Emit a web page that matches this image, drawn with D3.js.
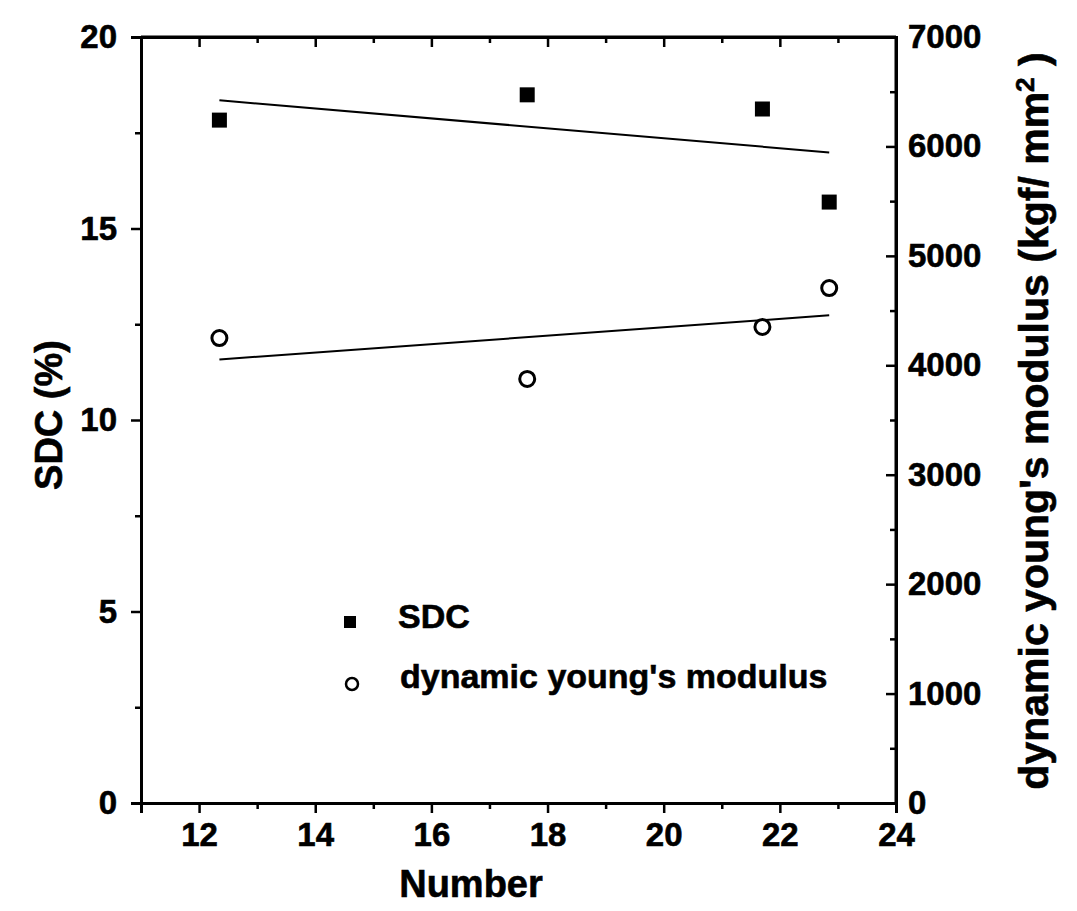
<!DOCTYPE html>
<html><head><meta charset="utf-8">
<script src="https://cdn.jsdelivr.net/npm/d3@7"></script>
<style>
body{margin:0;background:#fff;}
text{font-family:"Liberation Sans",Arial,sans-serif;font-weight:bold;fill:#000;stroke:#000;stroke-width:0.6px;}
</style></head>
<body>
<svg id="c" width="1077" height="911"></svg>
<script>
const numbers = [12.35, 17.65, 21.7, 22.85];
const sdcValues = [17.83, 18.49, 18.12, 15.69];
const modulusValues = [4249, 3875, 4350, 4706];
const xTicks = [12, 14, 16, 18, 20, 22, 24];
const yLeftTicks = [0, 5, 10, 15, 20];
const yRightTicks = [0, 1000, 2000, 3000, 4000, 5000, 6000, 7000];
const legendLabels = ["SDC", "dynamic young's modulus"];

const svg = d3.select("#c");
const L = 141, R = 896, T = 37, B = 803;
const x = d3.scaleLinear().domain([11, 24]).range([L, R]);
const yL = d3.scaleLinear().domain([0, 20]).range([B, T]);
const yR = d3.scaleLinear().domain([0, 7000]).range([B, T]);

function fit(xs, ys){
  const mx = d3.mean(xs), my = d3.mean(ys);
  let sxy = 0, sxx = 0;
  xs.forEach((v,i)=>{sxy += (v-mx)*(ys[i]-my); sxx += (v-mx)*(v-mx);});
  const b = sxy/sxx, a = my - b*mx;
  const x0 = d3.min(xs), x1 = d3.max(xs);
  return [[x0, a+b*x0],[x1, a+b*x1]];
}

const sw = 3;
const odd = d3.range(11,24,1).filter(v=>v%2===1);
const gB = svg.append("g").attr("transform",`translate(0,${B})`)
  .call(d3.axisBottom(x).tickValues(xTicks).tickSize(10).tickPadding(8).tickFormat(d3.format("d")));
svg.append("g").attr("transform",`translate(0,${B})`)
  .call(d3.axisBottom(x).tickValues(odd).tickSize(6).tickFormat(""));
svg.append("g").attr("transform",`translate(0,${T})`)
  .call(d3.axisBottom(x).tickValues(xTicks).tickSize(10).tickFormat(""));
svg.append("g").attr("transform",`translate(0,${T})`)
  .call(d3.axisBottom(x).tickValues(odd).tickSize(6).tickFormat(""));
svg.append("g").attr("transform",`translate(${L},0)`)
  .call(d3.axisLeft(yL).tickValues(yLeftTicks).tickSize(10).tickPadding(14).tickFormat(d3.format("d")));
svg.append("g").attr("transform",`translate(${L},0)`)
  .call(d3.axisLeft(yL).tickValues([2.5,7.5,12.5,17.5]).tickSize(6).tickFormat(""));
svg.append("g").attr("transform",`translate(${R},0)`)
  .call(d3.axisLeft(yR).tickValues(yRightTicks).tickSize(10).tickFormat(""));
svg.append("g").attr("transform",`translate(${R},0)`)
  .call(d3.axisLeft(yR).tickValues(d3.range(500,7000,1000)).tickSize(6).tickFormat(""));
const gRl = svg.append("g").attr("transform",`translate(${R},0)`)
  .call(d3.axisRight(yR).tickValues(yRightTicks).tickSize(0).tickPadding(12).tickFormat(d3.format("d")));
gRl.select(".domain").remove();

svg.selectAll(".domain").attr("stroke","#000").attr("stroke-width",sw);
svg.selectAll(".tick line").attr("stroke","#000").attr("stroke-width",2.5);
svg.selectAll(".tick text").style("font-size","33px").style("font-family","'Liberation Sans',Arial,sans-serif").style("font-weight","bold").attr("fill","#000");
gB.selectAll(".tick text").attr("dy","0.75em");
svg.append("line").attr("x1",L).attr("x2",R).attr("y1",T).attr("y2",T).attr("stroke","#000").attr("stroke-width",sw);
svg.append("line").attr("x1",R).attr("x2",R).attr("y1",T).attr("y2",B).attr("stroke","#000").attr("stroke-width",sw);

const sdcFit = fit(numbers, sdcValues);
const modFit = fit(numbers, modulusValues);
svg.append("path").attr("d", d3.line().x(d=>x(d[0])).y(d=>yL(d[1]))(sdcFit))
  .attr("stroke","#000").attr("stroke-width",2).attr("fill","none");
svg.append("path").attr("d", d3.line().x(d=>x(d[0])).y(d=>yR(d[1]))(modFit))
  .attr("stroke","#000").attr("stroke-width",2).attr("fill","none");

const sq = 15;
svg.selectAll(".sq").data(numbers).enter().append("rect")
  .attr("x",(d)=>x(d)-sq/2).attr("y",(d,i)=>yL(sdcValues[i])-sq/2)
  .attr("width",sq).attr("height",sq).attr("fill","#000");
svg.selectAll(".ci").data(numbers).enter().append("circle")
  .attr("cx",d=>x(d)).attr("cy",(d,i)=>yR(modulusValues[i])).attr("r",7.5)
  .attr("fill","#fff").attr("stroke","#000").attr("stroke-width",3);

svg.append("rect").attr("x",344).attr("y",616).attr("width",12).attr("height",12).attr("fill","#000");
svg.append("circle").attr("cx",352).attr("cy",684).attr("r",6).attr("fill","#fff").attr("stroke","#000").attr("stroke-width",2.5);
svg.append("text").attr("x",398).attr("y",628).style("font-size","34px").text(legendLabels[0]);
svg.append("text").attr("x",400).attr("y",688).style("font-size","34px").text(legendLabels[1]);

svg.append("text").attr("x",471).attr("y",897).attr("text-anchor","middle").style("font-size","38px").text("Number");
svg.append("text").attr("transform","translate(62,415) rotate(-90)").attr("text-anchor","middle").style("font-size","38px").text("SDC (%)");
const rt = svg.append("text").attr("transform","translate(1048,421) rotate(-90)").attr("text-anchor","middle").style("font-size","41px");
rt.append("tspan").text("dynamic young's modulus (kgf/ mm");
rt.append("tspan").attr("dy","-14").style("font-size","26px").text("2");
rt.append("tspan").attr("dy","14").text(" )");
</script>
</body></html>
